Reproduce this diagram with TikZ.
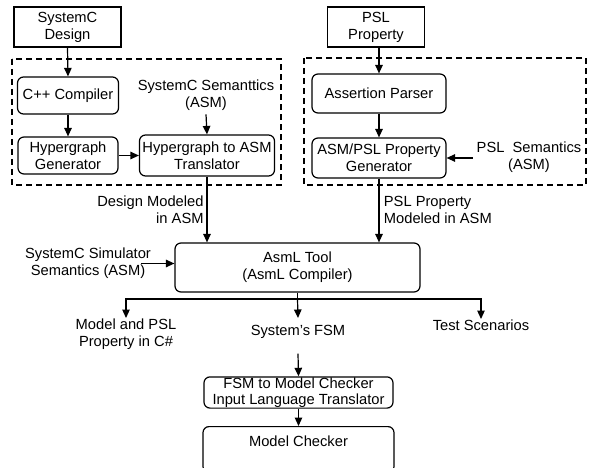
\documentclass[tikz,border=0pt]{standalone}
\usepackage{fontspec}
\setmainfont{Liberation Sans}
\usepackage{tikz}
\usetikzlibrary{arrows.meta}

\tikzset{
    box/.style={draw, rounded corners=6pt, align=center, inner sep=1pt},
    arr/.style={-{Stealth[length=8.5pt,width=7.5pt,inset=0pt]}},
    frame/.style={dash pattern=on 6pt off 4pt, line width=1.2pt},
}

\begin{document}
\begin{tikzpicture}[x=1pt, y=-1pt, line width=1.2pt,
    font=\fontsize{14.7}{17}\selectfont]
        \useasboundingbox (0,0) rectangle (589,468);
        \clip (0,0) rectangle (589,468);

        % SystemC design
        \node [draw,
            minimum width=107pt,
            minimum height=40pt,
            align=center,
        ] (scdesign) at (67.5,27) {SystemC\\Design};

        % PSL property
        \node [draw,
            minimum width=97pt,
            minimum height=40pt,
            align=center,
        ] (pslprop) at (376,27) {PSL\\Property};

        % dashed frames
        \draw [frame] (12,59) rectangle (281,185);
        \draw [frame] (304,58) rectangle (586,185);

        % C++ compiler
        \node [box,
            minimum width=101pt,
            minimum height=37pt,
        ] (cpp) at (68,95.5) {C++ Compiler};

        % hypergraph generator
        \node [box,
            minimum width=100pt,
            minimum height=37pt,
        ] (hgen) at (68,155.5) {Hypergraph\\Generator};

        % hypergraph to ASM
        \node [box,
            minimum width=135pt,
            minimum height=41pt,
        ] (hasm) at (207,155.5) {Hypergraph to ASM\\Translator};

        \node [align=center] (scsem) at (206,95) {SystemC Semanttics\\(ASM)};

        % assertion parser
        \node [box,
            minimum width=134pt,
            minimum height=39pt,
        ] (parser) at (379,93.5) {Assertion Parser};

        % ASM/PSL generator
        \node [box,
            minimum width=134pt,
            minimum height=40pt,
        ] (pgen) at (379,158) {ASM/PSL Property\\Generator};

        \node [align=center] (pslsem) at (529,157) {PSL\ \ Semantics\\(ASM)};

        % AsmL tool
        \node [box,
            minimum width=245pt,
            minimum height=49pt,
        ] (asml) at (297.5,267.5) {AsmL Tool\\(AsmL Compiler)};

        \node [align=center] (simsem) at (88,263.5) {SystemC Simulator\\Semantics (ASM)};

        \draw [arr] (scdesign.south) -- (cpp.north);
        \draw [arr] (cpp.south) -- (hgen.north);
        \draw [arr] (hgen.east) -- (hasm.west);
        \draw [arr] (scsem.south) -- (hasm.north);
        \draw [arr] (pslprop.south -| parser.north) -- (parser.north);
        \draw [arr] (parser.south) -- (pgen.north);
        \draw [arr] (pslsem.west |- pgen.east) -- (pgen.east);

        \draw [arr] (hasm.south) -- (hasm.south |- asml.north);
        \node [align=right, anchor=east] (dmodel) at (207.5,210) {Design Modeled\\in ASM};
        \draw [arr] (pgen.south) -- (pgen.south |- asml.north);
        \node [align=left, anchor=west] (pmodel) at (380,210) {PSL Property\\Modeled in ASM};
        \draw [arr] ([xshift=-14pt]simsem.east) -- (simsem.east -| asml.west);

        % outputs
        \coordinate (split) at (297.5,299);
        \node [align=center, anchor=north, inner sep=0pt] (csharp) at (126,318) {Model and PSL\\Property in C\#};
        \node [anchor=north, inner sep=0pt] (sysfsm) at (298,325) {System's FSM};
        \node [anchor=north, inner sep=0pt] (tests) at (481,319) {Test Scenarios};

        \draw (asml.south) -- (split);
        \draw [arr] (split) -| (csharp.north);
        \draw [arr] (split) -| (tests.north);
        \draw [arr] (split) -- ([yshift=7pt]sysfsm.north);

        % FSM translator
        \node [box,
            minimum width=189pt,
            minimum height=31pt,
            font=\fontsize{14.7}{15.5}\selectfont,
        ] (fsmtrans) at (298.5,392.5) {FSM to Model Checker\\Input Language Translator};

        % model checker
        \node [box,
            minimum width=191pt,
            minimum height=46pt,
            anchor=north,
            text height=10pt,
            text depth=16pt,
        ] (mcheck) at (298.5,426) {Model Checker};

        \draw [arr] ([yshift=-14pt]sysfsm.south) -- (fsmtrans.north);
        \draw [arr] (fsmtrans.south) -- (mcheck.north);
\end{tikzpicture}
\end{document}
